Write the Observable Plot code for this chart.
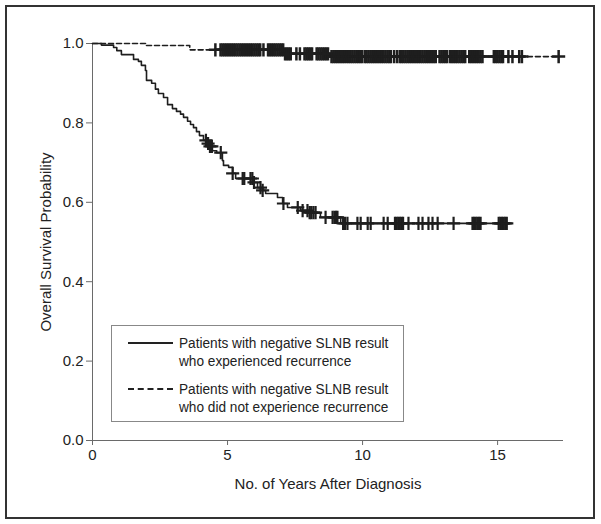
<!DOCTYPE html>
<html>
<head>
<meta charset="utf-8">
<script src="https://cdn.jsdelivr.net/npm/d3@7"></script>
<script src="https://cdn.jsdelivr.net/npm/@observablehq/plot@0.6"></script>
<style>
  html, body { margin: 0; padding: 0; background: #fff; }
  #wrap { position: relative; width: 601px; height: 524px; overflow: hidden;
    font-family: "Liberation Sans Narrow", "Arial Narrow", "Liberation Sans", Arial, sans-serif; color: #222; }
  #frame { position: absolute; left: 5px; top: 5px; width: 590px; height: 514px; box-sizing: border-box;
    border: 2px solid #333; pointer-events: none; }
  #chart { position: absolute; left: 0; top: 0; }
  #legend { position: absolute; left: 111px; top: 325px; width: 293px; height: 97px; box-sizing: border-box;
    border: 1px solid #888; background: #fff; font-size: 14px; line-height: 18px; }
  .entry { position: absolute; left: 0; }
  .sample { position: absolute; left: 16px; width: 45px; height: 0; border-top: 2px solid #222; }
  .sample.dashed { border-top: 2px dashed #222; }
  .lab { position: absolute; left: 67px; white-space: nowrap; transform: scaleX(0.975); transform-origin: 0 0; }
</style>
</head>
<body>
<div id="wrap">
  <div id="chart"></div>
  <div id="legend"></div>
  <div id="frame"></div>
</div>
<script>
// ---- data ----
const seriesNames = [
  ["Patients with negative SLNB result", "who experienced recurrence"],
  ["Patients with negative SLNB result", "who did not experience recurrence"]
];
// Kaplan-Meier steps, recurrence group (solid)
const recT = [0, 0.33, 0.78, 0.9, 1.07, 1.52, 1.7, 1.81, 1.96, 2.0, 2.19, 2.33, 2.44, 2.63, 2.78, 2.96, 3.11, 3.26, 3.37, 3.52, 3.63, 3.74, 3.85, 3.96, 4.11, 4.22, 4.33, 4.44, 4.6, 4.81, 4.85, 5.04, 5.19, 5.30, 5.93, 6.11, 6.30, 6.41, 6.85, 7.04, 7.22, 7.70, 8.0, 8.44, 9.19, 15.4];
const recS = [1.0, 0.996, 0.99, 0.982, 0.972, 0.96, 0.955, 0.945, 0.932, 0.907, 0.90, 0.885, 0.874, 0.864, 0.846, 0.836, 0.829, 0.822, 0.814, 0.804, 0.796, 0.788, 0.778, 0.768, 0.756, 0.748, 0.741, 0.730, 0.725, 0.705, 0.693, 0.688, 0.673, 0.66, 0.65, 0.637, 0.630, 0.622, 0.612, 0.597, 0.587, 0.579, 0.574, 0.562, 0.547, 0.547];
// censored times, recurrence group
const recCensor = [4.2, 4.28, 4.35, 4.42, 4.75, 5.19, 5.56, 5.62, 5.85, 5.92, 5.98, 6.22, 6.3, 7.07, 7.6, 7.78, 7.96, 8.04, 8.1, 8.18, 8.26, 8.63, 8.89, 8.96, 9.02, 9.07, 9.28, 9.35, 9.44, 9.81, 9.93, 10.19, 10.3, 10.78, 10.93, 11.2, 11.26, 11.32, 11.38, 11.44, 11.5, 11.7, 12.07, 12.22, 12.44, 12.59, 12.78, 13.37, 14.07, 14.13, 14.19, 14.25, 14.31, 14.37, 15.04, 15.1, 15.16, 15.22, 15.28, 15.34];
// Kaplan-Meier steps, no-recurrence group (dashed)
const noRecT = [0, 2.0, 3.6, 7.1, 8.8, 17.26];
const noRecS = [1.0, 0.995, 0.984, 0.974, 0.967, 0.967];
// censored times, no-recurrence group
const noRecCensor = [4.55,
  4.74, 4.81, 4.88, 4.95, 5.02, 5.09, 5.16, 5.23, 5.30, 5.37, 5.44, 5.51, 5.58, 5.65, 5.72, 5.79, 5.86, 5.93, 6.00, 6.07, 6.14, 6.21,
  6.33,
  6.50, 6.57, 6.64, 6.71, 6.78, 6.85, 6.92, 6.99, 7.06, 7.13, 7.20, 7.27, 7.34,
  7.55, 7.68,
  7.85, 7.92, 7.99, 8.06, 8.13,
  8.30, 8.37, 8.44, 8.51, 8.58, 8.65, 8.72,
  8.85, 8.92, 8.99, 9.06, 9.13, 9.20, 9.27, 9.34,
  9.42, 9.49, 9.56, 9.63, 9.70, 9.77, 9.84, 9.91, 9.98,
  10.08, 10.15, 10.22, 10.29, 10.36, 10.43, 10.50, 10.57, 10.64, 10.71, 10.78, 10.85, 10.92, 10.99, 11.05,
  11.17, 11.28,
  11.38, 11.45, 11.52, 11.59, 11.66, 11.73, 11.80, 11.87, 11.94, 12.01, 12.08, 12.15, 12.22, 12.29, 12.36, 12.43, 12.50, 12.57, 12.64, 12.71,
  12.85, 12.92, 12.99, 13.06, 13.13,
  13.24, 13.31, 13.38, 13.45, 13.52, 13.59, 13.66, 13.73, 13.80,
  13.95, 14.02, 14.09, 14.16, 14.23, 14.30, 14.37, 14.44,
  14.86, 14.93, 15.00, 15.07, 15.14, 15.20,
  15.40, 15.55, 15.80, 15.90, 17.26];
const xTicks = [0, 5, 10, 15];
const yTicks = [0, 0.2, 0.4, 0.6, 0.8, 1.0];
const xLabel = "No. of Years After Diagnosis";
const yLabel = "Overall Survival Probability";

// ---- build tables ----
const recLine = recT.map((t, i) => ({t, s: recS[i]}));
const noRecLine = noRecT.map((t, i) => ({t, s: noRecS[i]}));
const survAt = (T, S) => (t) => S[Math.max(0, d3.bisectRight(T, t) - 1)];
const recMarks = recCensor.map(t => ({t, s: survAt(recT, recS)(t)}));
const noRecMarks = noRecCensor.map(t => ({t, s: survAt(noRecT, noRecS)(t)}));

const ink = "#1e1e1e";
const axisInk = "#6a6a6a";
const chart = Plot.plot({
  width: 601,
  height: 524,
  marginLeft: 92,
  marginRight: 38,
  marginTop: 43,
  marginBottom: 84,
  style: {fontFamily: '"Liberation Sans", Arial, sans-serif', fontSize: "15px", color: "#222", background: "transparent"},
  x: {domain: [0, 17.44]},
  y: {domain: [0, 1]},
  marks: [
    Plot.ruleX([0], {stroke: axisInk, strokeWidth: 1}),
    Plot.ruleY([0], {stroke: axisInk, strokeWidth: 1}),
    Plot.axisX({ticks: xTicks, tickSize: 5, tickPadding: 4, stroke: axisInk, fill: "#222",
      label: xLabel, labelAnchor: "center", labelArrow: "none", labelOffset: 48}),
    Plot.axisY({ticks: yTicks, tickSize: 6, tickPadding: 3, stroke: axisInk, fill: "#222", tickFormat: d3.format(".1f"),
      label: yLabel, labelAnchor: "center", labelArrow: "none", labelOffset: 52}),
    Plot.line(noRecLine, {x: "t", y: "s", curve: "step-after", stroke: ink, strokeWidth: 1.6, strokeDasharray: "5,3"}),
    Plot.line(recLine, {x: "t", y: "s", curve: "step-after", stroke: ink, strokeWidth: 1.6}),
    Plot.dot(noRecMarks, {x: "t", y: "s", symbol: "plus", r: 4.3, stroke: ink, strokeWidth: 2.5}),
    Plot.dot(recMarks, {x: "t", y: "s", symbol: "plus", r: 4.3, stroke: ink, strokeWidth: 2.2})
  ]
});
document.getElementById("chart").appendChild(chart);

// ---- legend ----
const legend = document.getElementById("legend");
const entryTops = [8, 54];
seriesNames.forEach((lines, i) => {
  const e = document.createElement("div");
  e.className = "entry";
  e.style.top = entryTops[i] + "px";
  const s = document.createElement("div");
  s.className = "sample" + (i === 1 ? " dashed" : "");
  s.style.top = "8px";
  e.appendChild(s);
  const l = document.createElement("div");
  l.className = "lab";
  l.innerHTML = lines.join("<br>");
  e.appendChild(l);
  legend.appendChild(e);
});
</script>
</body>
</html>
